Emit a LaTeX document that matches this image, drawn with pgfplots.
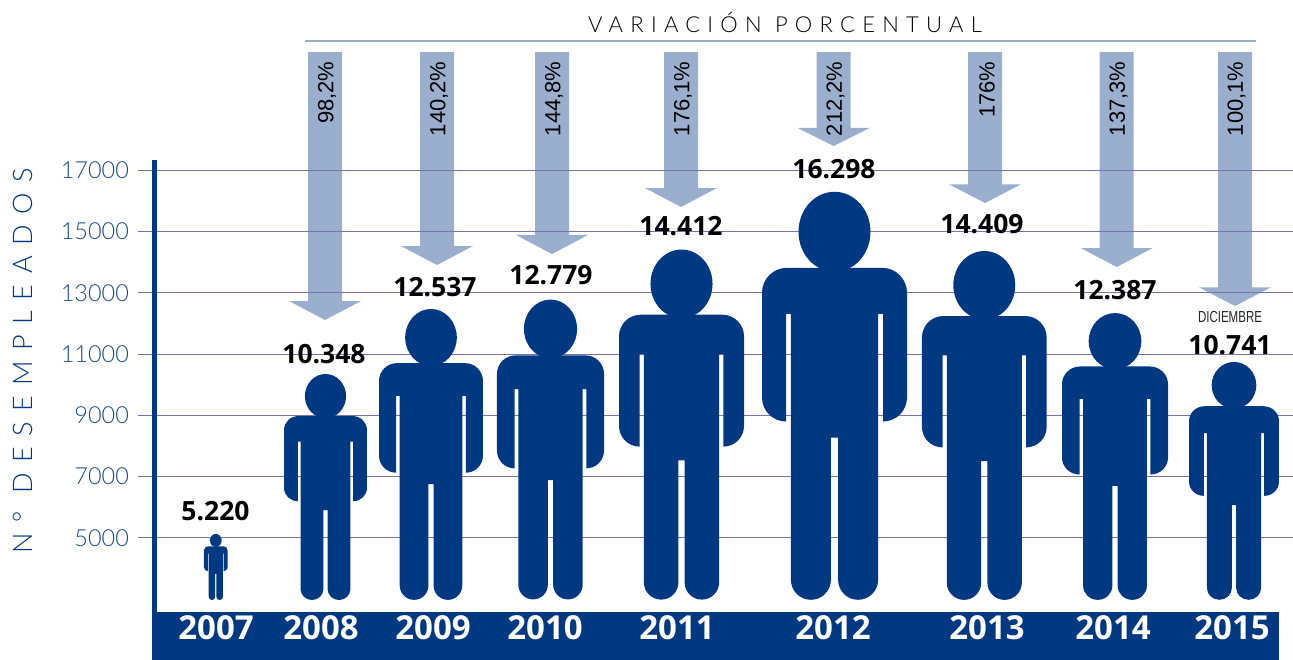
\documentclass[border=0pt]{standalone}
\usepackage{pgfplots}
\pgfplotsset{compat=1.18}
\usepackage{fontspec}
\setmainfont{Liberation Sans}
\newfontfamily\boldfont{Open Sans}[UprightFont=* Bold]
\newfontfamily\lightfont{Lato Light}
\definecolor{navy}{HTML}{003882}
\definecolor{arrowblue}{HTML}{9AAFCD}
\definecolor{gridc}{HTML}{7573B0}
\pgfdeclareplotmark{person}{%
  \path[fill=navy,draw=none] (0pt,-40pt) ellipse [x radius=36pt,y radius=40pt];
  \path[fill=navy,draw=none]
    (-72.5pt,-101pt) arc[start angle=180,end angle=90,radius=25pt]
    -- (47.5pt,-76pt) arc[start angle=90,end angle=0,radius=25pt]
    -- (72.5pt,-205.7pt) arc[start angle=0,end angle=-90,radius=24pt]
    -- (48.5pt,-122pt) -- (43.6pt,-122pt)
    -- (43.6pt,-388pt) arc[start angle=0,end angle=-180,radius=20pt]
    -- (3.6pt,-245.7pt) -- (-3.6pt,-245.7pt)
    -- (-3.6pt,-388pt) arc[start angle=0,end angle=-180,radius=20pt]
    -- (-43.6pt,-122pt) -- (-48.5pt,-122pt)
    -- (-48.5pt,-229.7pt) arc[start angle=-90,end angle=-180,radius=24pt]
    -- cycle;
}
\pgfplotsset{
  arrowplot/.style={fill=arrowblue,draw=none,forget plot},
  personplot/.style={only marks,mark=person,forget plot},
  frame/.style={at={(0,0)},anchor=south west,
    scale only axis,width=1138.5pt,height=452pt,
    xmin=154.5,xmax=1293,ymin=2573,ymax=17337,clip=false}
}
\newcommand\val[3]{\node[font=\boldfont\fontsize{26.5}{26.5}\selectfont,text=black,inner sep=0pt] at (axis cs:#1,#2) {#3};}
\newcommand\pct[2]{\node[font=\fontsize{22}{22}\selectfont,text=black,rotate=90,anchor=east,inner sep=0pt] at (axis cs:#1,20560) {#2};}
\begin{document}
\begin{tikzpicture}
\useasboundingbox (-154.5pt,-48pt) rectangle ++(1293pt,660pt);
\begin{axis}[
  frame,axis on top,
  axis lines=left,
  axis line style={-},
  x axis line style={draw=none},
  y axis line style={draw=navy,line width=4.4pt},
  ymajorgrids,
  grid style={gridc,line width=0.9pt},
  ytick={5000,7000,9000,11000,13000,15000,17000},
  scaled y ticks=false,
  y tick style={gridc,line width=0.9pt},
  major tick length=16pt,
  tick align=outside,
  yticklabel style={font=\lightfont\fontsize{23.5}{23.5}\selectfont,text=navy!90!white,xshift=-6pt,
    /pgf/number format/fixed,/pgf/number format/1000 sep={},/pgf/number format/assume math mode=true},
  xtick={216,321,433,545,677,833,987,1113,1232},
  xticklabels={2007,2008,2009,2010,2011,2012,2013,2014,2015},
  x tick style={draw=none},
  xticklabel style={font=\boldfont\fontsize{33}{33}\selectfont,text=white,yshift=16pt},
]
% bottom band
\addplot[fill=navy,draw=none,forget plot] coordinates {(152,2573) (1279,2573) (1279,1005) (152,1005)} -- cycle;
% header rule
\addplot[arrowblue,line width=2pt,forget plot] coordinates {(305,21223) (1256,21223)};
% arrows
\addplot[arrowplot] coordinates {(308,20864) (342,20864) (342,12731) (361,12731) (325,12111) (289,12731) (308,12731)} -- cycle;
\addplot[arrowplot] coordinates {(420,20864) (454,20864) (454,14527) (473,14527) (437,13907) (401,14527) (420,14527)} -- cycle;
\addplot[arrowplot] coordinates {(535,20864) (569,20864) (569,14887) (588,14887) (552,14266) (516,14887) (535,14887)} -- cycle;
\addplot[arrowplot] coordinates {(664,20864) (698,20864) (698,16422) (717,16422) (681,15801) (645,16422) (664,16422)} -- cycle;
\addplot[arrowplot] coordinates {(816.7,20864) (850.7,20864) (850.7,18382) (869.7,18382) (833.7,17794) (797.7,18382) (816.7,18382)} -- cycle;
\addplot[arrowplot] coordinates {(968,20864) (1002,20864) (1002,16543) (1021,16543) (985,15932) (949,16543) (968,16543)} -- cycle;
\addplot[arrowplot] coordinates {(1099.7,20864) (1133.7,20864) (1133.7,14462) (1152.7,14462) (1116.7,13842) (1080.7,14462) (1099.7,14462)} -- cycle;
\addplot[arrowplot] coordinates {(1218,20864) (1252,20864) (1252,13179) (1271,13179) (1235,12568) (1199,13179) (1218,13179)} -- cycle;
% persons: x position and number of unemployed
\addplot[personplot,mark options={yshift=-3pt,xscale=.163,yscale=.162}] coordinates {(215.8,5220)};
\addplot[personplot,mark options={xscale=.572,yscale=.554}] coordinates {(325.5,10348)};
\addplot[personplot,mark options={yshift=-2pt,xscale=.717,yscale=.713}] coordinates {(431,12537)};
\addplot[personplot,mark options={xscale=.738,yscale=.735}] coordinates {(550.5,12779)};
\addplot[personplot,mark options={xscale=.862,yscale=.858}] coordinates {(681.5,14412)};
\addplot[personplot,mark options={xscale=1,yscale=1}] coordinates {(834.5,16298)};
\addplot[personplot,mark options={yshift=-1.4pt,xscale=.860,yscale=.855}] coordinates {(984.3,14409)};
\addplot[personplot,mark options={yshift=-1.5pt,xscale=.731,yscale=.703}] coordinates {(1115,12387)};
\addplot[personplot,mark options={xscale=.62,yscale=.583}] coordinates {(1234,10741)};
\end{axis}
\begin{axis}[frame,hide axis]
% value labels
\val{215.5}{5860}{5.220}
\val{324}{11000}{10.348}
\val{435}{13190}{12.537}
\val{551}{13585}{12.779}
\val{681}{15170}{14.412}
\val{834}{17030}{16.298}
\val{982}{15240}{14.409}
\val{1115}{13100}{12.387}
\val{1230}{11300}{10.741}
\node[font=\fontsize{16}{16}\selectfont,text=black!85,xscale=.72,inner sep=0pt] at (axis cs:1230,12200) {DICIEMBRE};
% percentages
\pct{327}{98,2\%}
\pct{439}{140,2\%}
\pct{554}{144,8\%}
\pct{683}{176,1\%}
\pct{835.5}{212,2\%}
\pct{987}{176\%}
\pct{1118.5}{137,3\%}
\pct{1236.5}{100,1\%}
% header and axis title
\node[font=\lightfont\fontsize{22}{22}\selectfont,text=black,inner sep=0pt] at (axis cs:785,21827) {\addfontfeature{LetterSpace=33}VARIACIÓN PORCENTUAL};
\node[font=\lightfont\fontsize{27}{27}\selectfont,text=navy,rotate=90,inner sep=0pt] at (axis cs:23,10772) {\addfontfeature{LetterSpace=39}N° DESEMPLEADOS};
\end{axis}
\end{tikzpicture}
\end{document}
